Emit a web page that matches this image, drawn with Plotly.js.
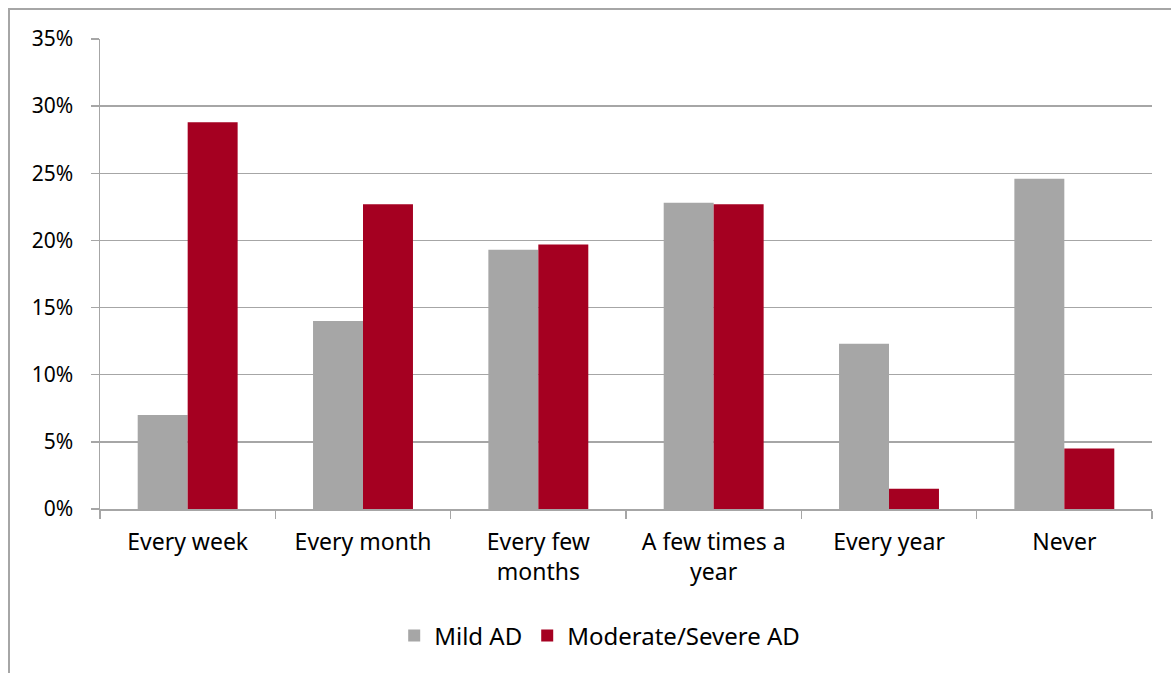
<!DOCTYPE html>
<html>
<head>
<meta charset="utf-8">
<script src="https://cdn.plot.ly/plotly-3.0.1.min.js"></script>
<style>
html,body{margin:0;padding:0;background:#fff;}
#frame{position:absolute;left:8px;top:8px;width:1300px;height:800px;border:2px solid #a6a6a6;box-sizing:border-box;}
#chart{position:absolute;left:0;top:0;width:1171px;height:673px;}
</style>
</head>
<body>
<div id="frame"></div>
<div id="chart"></div>
<script>
const categories = ["Every week", "Every month", "Every few<br>months", "A few times a<br>year", "Every year", "Never"];
const mildAD = [7.0, 14.0, 19.3, 22.8, 12.3, 24.6];
const moderateSevereAD = [28.8, 22.7, 19.7, 22.7, 1.5, 4.5];
const yTicks = [0, 5, 10, 15, 20, 25, 30, 35];

const FONT = "Noto Sans, sans-serif";

const data = [
  {type: "bar", name: "Mild AD", x: categories, y: mildAD, marker: {color: "#a6a6a6"}},
  {type: "bar", name: "Moderate/Severe AD", x: categories, y: moderateSevereAD, marker: {color: "#a50021"}}
];

const layout = {
  width: 1171, height: 673,
  paper_bgcolor: "rgba(0,0,0,0)", plot_bgcolor: "rgba(0,0,0,0)",
  margin: {l: 100, r: 19, t: 39, b: 164},
  font: {family: FONT, size: 23, color: "#000"},
  barmode: "group", bargap: 0.43, bargroupgap: 0,
  showlegend: true,
  legend: {orientation: "h", x: 0.475, xanchor: "center", y: -0.222, yanchor: "top", font: {size: 24}, itemwidth: 30},
  xaxis: {
    type: "category", showline: true, linecolor: "#a6a6a6", linewidth: 1.5,
    ticks: "outside", tickson: "boundaries", ticklen: 8, tickcolor: "#a6a6a6", tickwidth: 1.5,
    showgrid: false, tickfont: {size: 23}, tickangle: 0, ticklabelstandoff: 12
  },
  yaxis: {
    range: [0, 35], tickvals: yTicks, ticktext: yTicks.map(v => v + "%"),
    showline: true, linecolor: "#a6a6a6", linewidth: 1.5,
    ticks: "outside", ticklen: 8, tickcolor: "#a6a6a6", tickwidth: 1.5,
    showgrid: true, gridcolor: "#a6a6a6", gridwidth: 1.5, zeroline: false,
    tickfont: {size: 21}, ticklabelstandoff: 13
  }
};

Plotly.newPlot("chart", data, layout, {displayModeBar: false, staticPlot: true});
</script>
</body>
</html>
